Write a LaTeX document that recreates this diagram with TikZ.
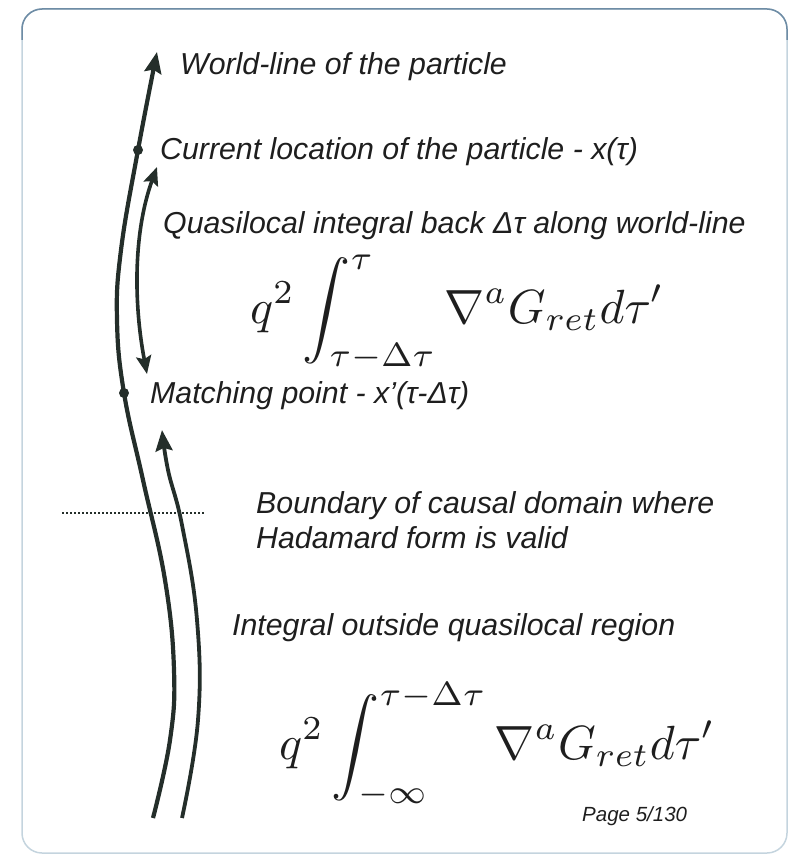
\RequirePackage{fix-cm}
\documentclass[tikz,border=0pt]{standalone}
\usepackage{amsmath}
\usepackage{graphicx}
\usepackage[no-math]{fontspec}
\setmainfont{Liberation Sans}
\usepackage{xcolor}
\usetikzlibrary{arrows.meta}

\definecolor{ink}{RGB}{36,46,42}
\definecolor{txt}{RGB}{30,30,30}
\definecolor{frameedge}{RGB}{196,212,222}
\definecolor{frametop}{RGB}{110,140,165}

% formula set at 10pt, then blown up
\newcommand{\bigeqn}[1]{\scalebox{4.8}{\fontsize{10}{12}\selectfont$\displaystyle #1$}}

\begin{document}
\begin{tikzpicture}[
    x=1pt, y=-1pt,
    line/.style={draw=ink, line width=4.2pt},
    arr/.style={-{Stealth[length=21pt,width=17pt,inset=3pt]}},
    darr/.style={{Stealth[length=18pt,width=15pt,inset=3pt]}-{Stealth[length=18pt,width=15pt,inset=3pt]}},
    lbl/.style={inner sep=0pt, anchor=west, text=txt,
                font=\fontsize{30.3}{35}\selectfont\itshape},
    eqn/.style={inner sep=0pt, anchor=west, text=txt},
    dot/.style={circle, fill=ink, inner sep=0pt, minimum size=10pt}
]
\useasboundingbox (0,0) rectangle (792,861);

% ── Frame ──
\draw[frameedge, line width=1.5pt, rounded corners=20pt] (22,9) rectangle (787,853);
\draw[frametop, line width=1.5pt, rounded corners=20pt] (22,40) -- (22,9) -- (787,9) -- (787,40);

% ── Points on the world-line ──
\coordinate (wlbot) at (153,818);
\coordinate (wltop) at (157,52);
\node[dot] (current) at (138,150) {};
\node[dot] (match) at (124,393) {};

% ── World-line ──
\draw[line, arr] plot[smooth, tension=0.7] coordinates
    {(wlbot) (170,740) (174,670) (165,580) (143,480) (match)
     (117,320) (121,250) (current) (wltop)};

% ── Integral outside quasilocal region ──
\coordinate (outbot) at (182,818);
\coordinate (outtop) at (162,430);
\draw[line, line width=3.8pt, arr] plot[smooth, tension=0.7] coordinates
    {(outbot) (198,720) (197,620) (182,525) (168,470) (outtop)};

% ── Quasilocal interval ──
\coordinate (qtop) at (157,167);
\coordinate (qbot) at (147,374);
\draw[line, line width=3.6pt, darr] (qbot) .. controls (133,300) and (134,230) .. (qtop);

% ── Boundary of causal domain ──
\coordinate (bndl) at (62,513);
\coordinate (bndr) at (204,513);
\draw[ink, line width=2pt, dotted] (bndl) -- (bndr);

% ── Labels ──
\node[lbl] (worldlbl) at (180,67) {World-line of the particle};
\node[lbl] (currlbl) at (160,152) {Current location of the particle - x(τ)};
\node[lbl] (quasilbl) at (163,226) {Quasilocal integral back Δτ along world-line};
\node[eqn] (quasieq) at (250,313)
    {\bigeqn{q^2\int_{\tau-\Delta\tau}^{\tau}\nabla^a G_{ret}d\tau'}};
\node[lbl] (matchlbl) at (150,396) {Matching point - x’(τ-Δτ)};
\node[lbl, align=left] (bndlbl) at (256,520)
    {Boundary of causal domain where\\Hadamard form is valid};
\node[lbl] (outlbl) at (232,628) {Integral outside quasilocal region};
\node[eqn] (outeq) at (279,745)
    {\bigeqn{q^2\int_{-\infty}^{\tau-\Delta\tau}\nabla^a G_{ret}d\tau'}};
\node[lbl, font=\fontsize{20.5}{24}\selectfont\itshape] (pagelbl) at (582,816) {Page 5/130};

\end{tikzpicture}
\end{document}
